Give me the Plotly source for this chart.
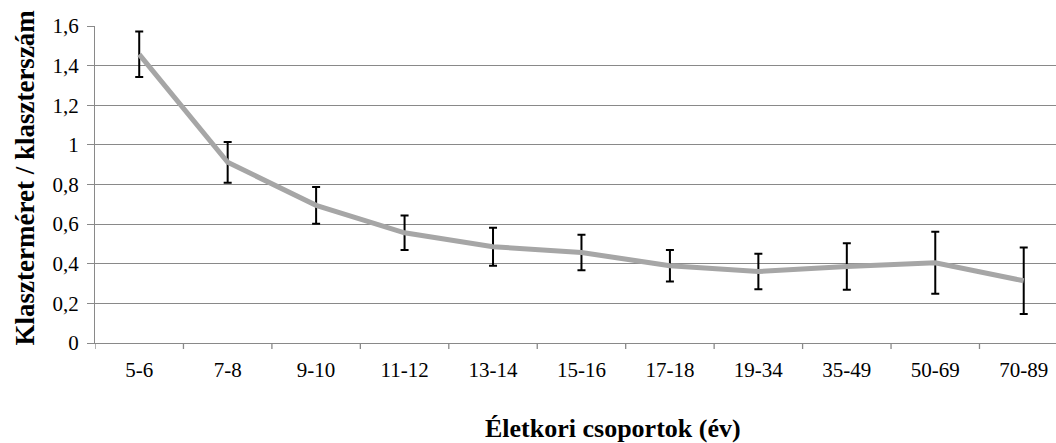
import plotly.graph_objects as go

# Age groups and mean cluster size / cluster count with error margins
age_groups = ["5-6", "7-8", "9-10", "11-12", "13-14", "15-16", "17-18",
              "19-34", "35-49", "50-69", "70-89"]
mean_values = [1.457, 0.912, 0.695, 0.556, 0.486, 0.457, 0.390,
               0.361, 0.386, 0.405, 0.314]
error_values = [0.115, 0.103, 0.093, 0.087, 0.096, 0.090, 0.080,
                0.090, 0.117, 0.156, 0.168]

y_ticks = [0, 0.2, 0.4, 0.6, 0.8, 1.0, 1.2, 1.4, 1.6]

W, H = 1056, 443
ML, MR, MT, MB = 95, 0, 26, 100
FONT = "Liberation Serif, Times New Roman, serif"
PW, PH = W - ML - MR, H - MT - MB

fig = go.Figure()
fig.add_trace(go.Scatter(
    x=list(range(len(age_groups))),
    y=mean_values,
    mode="lines",
    line=dict(color="#A6A6A6", width=5),
    error_y=dict(type="data", array=error_values, visible=True,
                 color="black", thickness=2, width=4),
    showlegend=False,
    hoverinfo="skip",
))

grid_color = "#898989"
fig.update_layout(
    width=W, height=H,
    margin=dict(l=ML, r=MR, t=MT, b=MB),
    paper_bgcolor="white",
    plot_bgcolor="white",
    separators=", ",
    font=dict(family=FONT, size=21, color="black"),
    xaxis=dict(
        tickmode="array",
        tickvals=list(range(len(age_groups))),
        ticktext=age_groups,
        range=[-0.5, 10.365],
        showgrid=False,
        zeroline=False,
        showline=True, linecolor=grid_color, linewidth=1.3,
        ticks="", ticklen=0,
        tickfont=dict(family=FONT, size=21),
        ticklabelstandoff=8,
        fixedrange=True,
    ),
    yaxis=dict(
        range=[0, 1.6],
        tickvals=y_ticks,
        showgrid=True, gridcolor=grid_color, gridwidth=1.3,
        zeroline=False,
        showline=True, linecolor=grid_color, linewidth=1.3,
        ticks="outside", ticklen=7, tickcolor=grid_color, tickwidth=1.3,
        tickfont=dict(family=FONT, size=21),
        ticklabelstandoff=4,
        fixedrange=True,
    ),
    annotations=[
        dict(text="<b>Életkori csoportok (év)</b>", xref="paper", yref="paper",
             x=(613 - ML) / PW, y=-(428 - (H - MB)) / PH,
             xanchor="center", yanchor="middle", showarrow=False,
             font=dict(family=FONT, size=26)),
        dict(text="<b>Klaszterméret / klaszterszám</b>", xref="paper", yref="paper",
             x=-(ML - 24) / PW, y=(H - MB - 177.5) / PH,
             xanchor="center", yanchor="middle", textangle=-90, showarrow=False,
             font=dict(family=FONT, size=27)),
    ],
)

# Category tick marks sit between groups, so draw them as separate short lines
for i in range(len(age_groups) + 1):
    xv = i - 0.5
    fig.add_shape(type="line", xref="x", yref="paper",
                  x0=xv, x1=xv, y0=0, y1=-6 / PH,
                  line=dict(color=grid_color, width=1.3))

fig.write_html("out.html")
